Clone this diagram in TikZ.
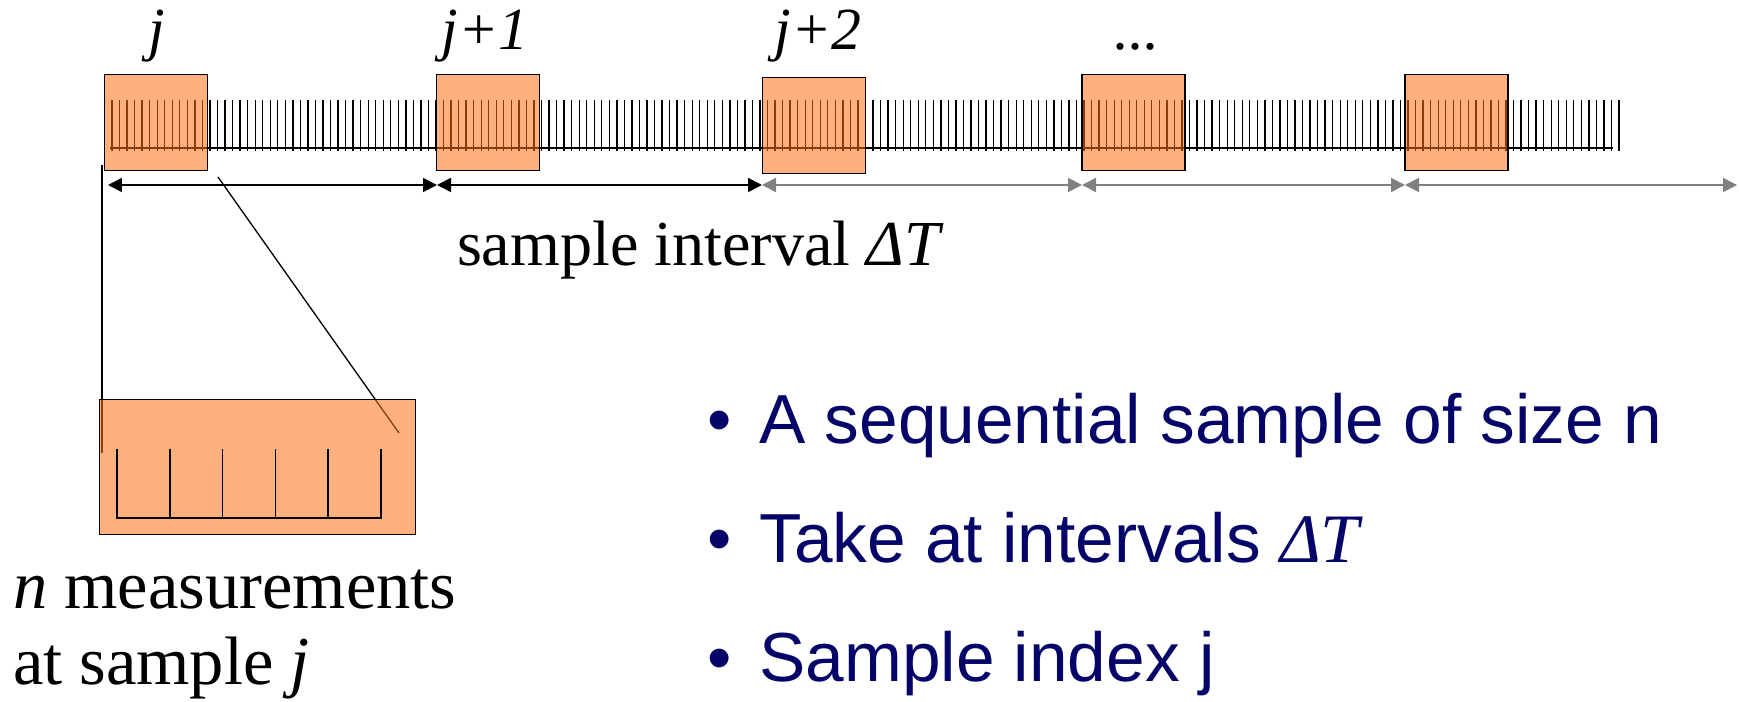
\documentclass[tikz,border=0pt]{standalone}
\usepackage{fontspec}
\setmainfont{Liberation Serif}
\newfontfamily\arialfont{Liberation Sans}
\usetikzlibrary{arrows.meta}
\definecolor{sampfill}{RGB}{255,111,22}
\definecolor{bulletblue}{RGB}{5,5,105}
\definecolor{arrowgray}{RGB}{128,128,128}
\begin{document}
\begin{tikzpicture}[x=0.02cm,y=-0.02cm,>={Triangle[length=0.28cm,width=0.28cm]},
  every node/.style={inner sep=0pt,outer sep=0pt},
  sampbox/.style={draw,line width=1pt,fill=sampfill,fill opacity=0.55,text opacity=1,minimum width=2.06cm,minimum height=1.92cm},
  idxlabel/.style={anchor=base,font=\fontsize{34}{40}\selectfont\itshape},
  bigtext/.style={anchor=base west,font=\fontsize{39}{46}\selectfont},
  bullettext/.style={anchor=base west,text=bulletblue,font=\fontsize{39.5}{46}\selectfont\arialfont},
  tick/.style={line width=0.75pt}]
\useasboundingbox (0,0) rectangle (1739,702);
% Ruler of single measurements
\foreach \i in {0,...,200} {
  \draw[tick] ({112+\i*7.535},100) -- ++(0,51);
}
\draw[tick] (110,148) -- (1613,148);
% Samples
\node[sampbox] (s1) at (156,122.5) {};
\node[sampbox] (s2) at (488,122.5) {};
\node[sampbox] (s3) at (814,125.5) {};
\node[sampbox] (s4) at (1133.5,122.5) {};
\node[sampbox] (s5) at (1456.5,122.5) {};
\node[idxlabel] (l1) at (157,50) {j};
\node[idxlabel] (l2) at (485,50) {j+1};
\node[idxlabel] (l3) at (818,50) {j+2};
\node[idxlabel] (l4) at (1137,50) {...};
% Intervals
\coordinate (a0) at (108,185);
\coordinate (a1) at (437,185);
\coordinate (a2) at (762,185);
\coordinate (a3) at (1082,185);
\coordinate (a4) at (1405,185);
\coordinate (a5) at (1737,185);
\draw[<->,line width=1pt] (a0) -- (a1);
\draw[<->,line width=1pt] (a1) -- (a2);
\foreach \p/\q in {a2/a3,a3/a4,a4/a5}
  \draw[<->,line width=1pt,arrowgray] (\p) -- (\q);
\node[bigtext,font=\fontsize{36.5}{43}\selectfont] (intv) at (457,266) {sample interval \textit{ΔT}};
% Blow-up of sample j
\coordinate (v1) at (102,165);
\coordinate (v2) at (102,453);
\coordinate (d1) at (218,177);
\coordinate (d2) at (399,433);
\draw[line width=0.75pt] (v1) -- (v2);
\draw[line width=0.75pt] (d1) -- (d2);
\node[sampbox,minimum width=6.32cm,minimum height=2.7cm] (inset) at (257.5,467) {};
\draw[line width=1pt] (117,449) -- (117,518) -- (381,518) -- (381,449);
\foreach \k in {1,...,4}
  \draw[line width=1pt] ({117+\k*52.8},449) -- ++(0,69);
\node[bigtext] (nm) at (13,608) {\textit{n} measurements};
\node[bigtext] (atj) at (13,684) {at sample \textit{j}};
% Bullets
\node[bullettext] (b1) at (707,444) {•\hspace{16pt}A sequential sample of size n};
\node[bullettext] (b2) at (707,562) {•\hspace{16pt}Take at intervals {\rmfamily\itshape ΔT}};
\node[bullettext] (b3) at (707,682) {•\hspace{16pt}Sample index j};
\end{tikzpicture}
\end{document}
